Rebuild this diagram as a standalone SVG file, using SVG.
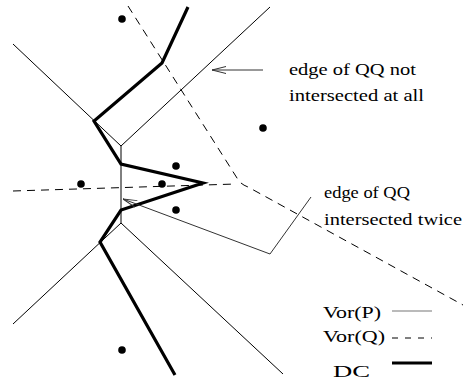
<svg xmlns="http://www.w3.org/2000/svg" width="464" height="383" viewBox="0 0 464 383">
  <style>
    .vorp { fill: none; stroke: #000; stroke-width: 1; }
    .vorq { fill: none; stroke: #000; stroke-width: 1; stroke-dasharray: 8 6; }
    .dc { fill: none; stroke: #000; stroke-width: 3.2; stroke-linejoin: miter; }
    .ptr { fill: none; stroke: #333; stroke-width: 1; }
    .site { fill: #000; }
    .lbl { font-family: "Liberation Serif", "Times New Roman", serif; font-size: 17px; fill: #000; }
  </style>
  <defs>
    <marker id="open-head" markerUnits="userSpaceOnUse" markerWidth="20" markerHeight="12" refX="0" refY="6" orient="auto" viewBox="0 0 20 12">
      <path d="M14,2.5 L0,6 L14,9.5" fill="none" stroke="#333" stroke-width="1"/>
    </marker>
  </defs>
  <rect width="464" height="383" fill="#fff"/>

  <g id="connectors">
    <!-- Voronoi diagram of P -->
    <g id="vor-p">
      <path class="vorp" d="M13,44 L121,146 L270,7"/>
      <path class="vorp" d="M121,146 L121,223"/>
      <path class="vorp" d="M13,324 L121,223 L283,374"/>
    </g>
    <!-- Voronoi diagram of Q -->
    <g id="vor-q">
      <path class="vorq" d="M128,6 L237,178 Q240,184 248,187 L463,305"/>
      <path class="vorq" d="M13,191 L236,184" stroke="#444"/>
    </g>
    <!-- DC chain -->
    <path id="dc" class="dc" d="M188,7 L162,63 L94,121 L121,164 L203,183 L121,210 L100,242 L175,375"/>
    <!-- pointers to the labelled edges -->
    <path id="ptr-not" class="ptr" d="M212,70 L263,70" marker-start="url(#open-head)"/>
    <path id="ptr-twice" class="ptr" d="M123,199 L270,254 L311,197" marker-start="url(#open-head)"/>
  </g>

  <!-- sites -->
  <g id="site-1"><circle class="site" cx="122" cy="19" r="3.8"/></g>
  <g id="site-2"><circle class="site" cx="263" cy="128" r="3.8"/></g>
  <g id="site-3"><circle class="site" cx="176" cy="166" r="3.8"/></g>
  <g id="site-4"><circle class="site" cx="81" cy="184" r="3.8"/></g>
  <g id="site-5"><circle class="site" cx="162" cy="184" r="3.8"/></g>
  <g id="site-6"><circle class="site" cx="176" cy="210" r="3.8"/></g>
  <g id="site-7"><circle class="site" cx="122" cy="350" r="3.8"/></g>

  <!-- annotations -->
  <g id="label-not">
    <text class="lbl" x="289" y="75" textLength="127" lengthAdjust="spacingAndGlyphs">edge of QQ not</text>
    <text class="lbl" x="289" y="101" textLength="135" lengthAdjust="spacingAndGlyphs">intersected at all</text>
  </g>
  <g id="label-twice">
    <text class="lbl" x="324" y="198" textLength="86" lengthAdjust="spacingAndGlyphs">edge of QQ</text>
    <text class="lbl" x="324" y="225" textLength="138" lengthAdjust="spacingAndGlyphs">intersected twice</text>
  </g>

  <!-- legend -->
  <g id="legend">
    <text class="lbl" x="323" y="318" textLength="58" lengthAdjust="spacingAndGlyphs">Vor(P)</text>
    <line x1="392" y1="311" x2="432" y2="311" stroke="#777" stroke-width="1.2"/>
    <text class="lbl" x="323" y="342" textLength="62" lengthAdjust="spacingAndGlyphs">Vor(Q)</text>
    <line x1="392" y1="338" x2="432" y2="338" stroke="#000" stroke-width="1" stroke-dasharray="6 7"/>
    <text class="lbl" x="333" y="377" textLength="37" lengthAdjust="spacingAndGlyphs">DC</text>
    <line x1="392" y1="363" x2="432" y2="363" stroke="#000" stroke-width="3.2"/>
  </g>
</svg>
